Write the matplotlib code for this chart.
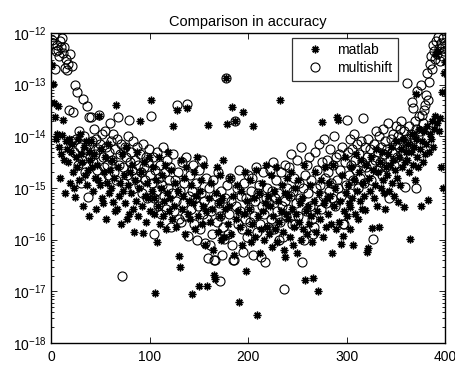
import numpy as np
import matplotlib
matplotlib.use("Agg")
import matplotlib.pyplot as plt
from matplotlib.ticker import FixedLocator, NullFormatter

plt.rcParams['font.family'] = ['Liberation Sans', 'DejaVu Sans']
plt.rcParams['mathtext.fontset'] = 'custom'
plt.rcParams['mathtext.rm'] = 'Liberation Sans'
plt.rcParams['mathtext.it'] = 'Liberation Sans:italic'
plt.rcParams['mathtext.bf'] = 'Liberation Sans:bold'

# log10 of the error for each of the 400 test cases
matlab_exp = [
    -12.62, -12.99, -13.35, -13.62, -14.05, -13.95, -13.41, -14.20, -14.80, -14.35,
    -13.97, -13.68, -14.45, -15.10, -14.10, -14.25, -14.50, -14.05, -14.90, -14.30,
    -14.15, -14.70, -15.00, -15.17, -14.40, -14.60, -14.05, -14.85, -13.95, -14.35,
    -14.50, -15.35, -14.20, -14.75, -14.10, -14.95, -14.65, -14.30, -15.55, -14.45,
    -14.10, -14.60, -15.05, -14.35, -14.80, -15.40, -14.55, -14.85, -13.60, -14.95,
    -14.25, -15.20, -15.30, -14.70, -14.40, -15.60, -14.90, -14.15, -15.10, -14.65,
    -15.00, -14.45, -15.27, -14.80, -15.45, -13.40, -15.40, -14.60, -15.15, -14.90,
    -15.70, -14.35, -15.05, -14.75, -15.30, -14.20, -15.60, -14.95, -15.50, -14.70,
    -15.10, -14.55, -15.40, -15.85, -14.85, -15.25, -14.30, -15.55, -15.00, -13.70,
    -14.70, -15.35, -15.87, -14.50, -15.15, -15.65, -14.90, -15.20, -14.40, -15.45,
    -13.30, -15.05, -14.60, -15.50, -15.20, -17.03, -14.85, -16.04, -15.35, -14.40,
    -15.70, -15.00, -14.75, -15.55, -15.25, -14.55, -15.80, -15.10, -14.30, -15.45,
    -15.20, -14.65, -15.60, -13.80, -15.35, -14.90, -15.75, -13.50, -15.05, -16.31,
    -16.52, -14.45, -15.40, -15.15, -14.80, -15.90, -14.60, -13.45, -15.50, -15.25,
    -15.60, -14.95, -17.05, -15.30, -14.70, -15.80, -15.15, -14.40, -15.55, -16.90,
    -15.05, -14.85, -15.70, -15.35, -14.55, -16.10, -15.45, -16.90, -13.78, -15.20,
    -15.65, -14.90, -15.40, -16.20, -16.68, -16.76, -15.10, -14.60, -15.85, -15.30,
    -14.75, -15.55, -16.00, -15.20, -14.45, -15.95, -15.40, -12.87, -13.77, -15.70,
    -15.35, -14.80, -15.90, -13.43, -15.15, -16.30, -13.70, -15.60, -14.95, -15.45,
    -17.20, -15.75, -15.05, -16.10, -13.53, -15.50, -14.70, -16.60, -15.25, -15.85,
    -15.40, -14.85, -16.05, -15.70, -13.80, -15.20, -15.95, -14.65, -17.45, -15.55,
    -15.10, -16.25, -15.80, -14.90, -15.45, -16.00, -15.30, -14.55, -15.75, -15.15,
    -15.90, -15.35, -14.75, -16.15, -15.55, -15.05, -15.80, -14.60, -16.05, -15.25,
    -15.65, -13.30, -15.45, -14.95, -15.85, -16.20, -15.10, -16.33, -15.50, -14.80,
    -15.60, -15.15, -15.95, -14.70, -15.40, -16.10, -15.75, -15.00, -15.50, -16.26,
    -14.85, -15.65, -15.30, -16.00, -15.20, -15.80, -14.55, -16.78, -15.45, -15.90,
    -15.35, -15.70, -14.95, -15.55, -16.05, -16.75, -15.25, -14.70, -15.85, -15.45,
    -16.99, -15.10, -15.60, -14.85, -13.72, -15.95, -15.30, -14.60, -15.75, -15.20,
    -15.50, -14.90, -15.15, -15.70, -16.26, -14.55, -15.35, -15.00, -15.80, -13.63,
    -13.68, -15.65, -15.25, -16.08, -14.75, -15.93, -15.45, -14.40, -15.10, -15.55,
    -14.95, -15.30, -15.80, -15.37, -14.60, -15.20, -16.10, -14.85, -15.50, -14.35,
    -15.05, -15.60, -14.70, -15.25, -14.45, -15.40, -14.90, -15.15, -15.42, -14.55,
    -16.24, -16.16, -14.80, -15.05, -14.40, -15.77, -14.65, -15.20, -14.95, -14.25,
    -15.35, -14.70, -15.75, -14.50, -15.00, -14.30, -14.85, -15.10, -15.40, -14.60,
    -14.75, -14.35, -15.05, -14.55, -14.20, -14.90, -14.45, -15.15, -14.65, -14.10,
    -14.80, -15.27, -14.40, -14.95, -14.25, -14.60, -14.05, -15.37, -14.50, -14.30,
    -14.45, -14.15, -14.70, -15.98, -14.30, -13.95, -14.55, -14.20, -14.85, -14.05,
    -13.18, -14.40, -14.60, -13.85, -14.25, -15.35, -14.10, -14.50, -13.90, -14.35,
    -14.15, -13.80, -15.23, -14.30, -13.95, -14.05, -13.70, -14.20, -13.85, -13.60,
    -12.40, -13.75, -12.35, -13.90, -13.64, -14.60, -13.14, -15.00, -12.78, -12.56,
]

multishift_exp = [
    -12.13, -12.20, -12.05, -12.70, -12.35, -12.23, -12.33, -12.45, -12.15, -12.28,
    -12.10, -12.39, -12.27, -12.68, -12.50, -12.72, -12.60, -13.50, -12.40, -14.10,
    -12.64, -13.53, -14.30, -13.00, -14.05, -13.14, -14.55, -13.90, -14.20, -14.90,
    -14.45, -13.28, -14.00, -14.70, -14.25, -13.42, -15.17, -14.15, -13.63, -14.40,
    -13.63, -14.10, -14.50, -13.85, -14.35, -14.05, -14.65, -14.25, -13.58, -14.15,
    -14.80, -13.95, -14.40, -14.60, -13.90, -14.20, -14.55, -14.75, -14.30, -13.74,
    -14.10, -14.45, -13.95, -14.70, -14.25, -14.85, -14.05, -13.63, -14.55, -14.35,
    -14.15, -16.70, -14.60, -14.90, -14.20, -14.40, -14.75, -14.00, -13.68, -14.50,
    -14.30, -14.65, -14.10, -15.00, -14.45, -14.80, -14.20, -14.55, -14.95, -14.35,
    -14.70, -15.10, -14.15, -14.60, -14.85, -14.40, -15.20, -14.50, -14.25, -14.75,
    -13.60, -14.90, -14.40, -15.20, -15.90, -14.65, -15.05, -14.30, -15.35, -14.80,
    -14.55, -15.50, -14.95, -14.20, -15.15, -14.70, -15.40, -14.45, -15.00, -14.85,
    -14.60, -15.75, -15.10, -14.35, -15.45, -14.85, -15.25, -13.40, -14.70, -15.60,
    -15.05, -15.66, -14.50, -15.30, -14.90, -15.55, -14.40, -13.38, -15.93, -15.15,
    -14.75, -15.40, -15.05, -14.55, -15.70, -15.20, -14.90, -16.00, -15.35, -14.65,
    -15.80, -15.10, -14.45, -15.50, -15.25, -16.07, -14.80, -15.60, -16.35, -15.00,
    -16.10, -15.45, -15.90, -14.85, -16.40, -16.40, -15.15, -15.65, -14.70, -15.30,
    -16.80, -15.55, -15.05, -16.30, -15.75, -15.98, -15.20, -12.87, -14.95, -15.90,
    -15.50, -14.80, -15.25, -16.10, -16.40, -16.40, -13.70, -15.35, -15.00, -15.70,
    -14.65, -15.45, -15.15, -15.80, -16.24, -14.90, -15.60, -15.20, -15.95, -14.75,
    -15.40, -15.65, -15.05, -14.80, -16.30, -15.55, -15.25, -14.60, -15.85, -15.10,
    -14.95, -15.70, -16.33, -15.35, -14.70, -15.50, -16.43, -15.20, -15.00, -15.75,
    -15.30, -14.65, -15.60, -15.05, -14.50, -15.80, -15.20, -14.85, -15.45, -15.10,
    -16.00, -15.66, -14.70, -15.35, -15.95, -16.95, -15.25, -14.55, -15.55, -15.00,
    -15.40, -14.60, -15.15, -14.35, -15.70, -15.05, -14.80, -15.70, -15.30, -14.45,
    -15.55, -14.90, -15.20, -14.20, -16.43, -15.00, -16.00, -14.75, -15.45, -14.55,
    -15.10, -14.40, -15.35, -14.85, -15.60, -15.90, -15.76, -14.30, -15.00, -14.65,
    -15.25, -14.15, -14.95, -15.40, -14.50, -15.15, -14.05, -14.80, -15.30, -14.45,
    -14.70, -15.05, -14.25, -14.90, -15.20, -14.55, -14.00, -15.35, -14.40, -14.85,
    -15.00, -14.35, -14.65, -15.15, -14.20, -15.70, -15.70, -14.50, -14.95, -13.68,
    -14.30, -14.75, -14.05, -15.10, -14.55, -14.25, -14.85, -13.95, -14.45, -14.65,
    -14.15, -15.00, -14.35, -14.80, -14.10, -14.50, -13.65, -14.90, -14.20, -14.60,
    -14.40, -14.05, -14.70, -14.25, -14.85, -14.55, -15.98, -14.15, -14.45, -13.90,
    -14.65, -14.30, -14.00, -14.50, -14.20, -14.75, -13.85, -14.35, -14.10, -14.60,
    -14.25, -13.75, -15.20, -14.45, -14.05, -14.30, -13.95, -14.55, -14.15, -13.80,
    -14.40, -14.00, -14.20, -13.85, -13.70, -14.35, -14.10, -13.90, -14.98, -14.05,
    -12.97, -14.15, -13.80, -14.25, -13.95, -13.33, -13.45, -14.05, -13.70, -15.00,
    -13.85, -13.13, -14.00, -13.60, -13.90, -13.00, -13.58, -13.75, -13.50, -13.40,
    -13.20, -12.78, -13.30, -12.95, -12.60, -12.45, -12.70, -12.23, -12.35, -12.50,
    -12.15, -12.40, -12.08, -12.30, -12.55, -12.20, -12.45, -12.10, -12.35, -12.25,
]

decades = [1e-18, 1e-17, 1e-16, 1e-15, 1e-14, 1e-13, 1e-12]
decade_labels = [r'$10^{-18}$', r'$10^{-17}$', r'$10^{-16}$', r'$10^{-15}$',
                 r'$10^{-14}$', r'$10^{-13}$', r'$10^{-12}$']
xticks = [0, 100, 200, 300, 400]

n = np.arange(1, len(matlab_exp) + 1)
err_matlab = 10.0 ** np.array(matlab_exp)
err_multi = 10.0 ** np.array(multishift_exp)

fig = plt.figure(figsize=(4.56, 3.67), dpi=100)
ax = fig.add_axes([0.112, 0.0654, 0.864, 0.845])

ax.semilogy(n, err_matlab, linestyle='none', marker=(8, 2, 0), ms=5.5,
            mew=1.0, color='black', label='matlab')
ax.semilogy(n, err_multi, linestyle='none', marker='o', ms=6.5,
            mfc='none', mew=0.8, color='black', label='multishift')

ax.set_xlim(0, 400)
ax.set_ylim(decades[0], decades[-1])
ax.set_xticks(xticks)
ax.set_yticks(decades)
ax.set_yticklabels(decade_labels)
minor = [m * d for d in decades[:-1] for m in range(2, 10)]
ax.yaxis.set_minor_locator(FixedLocator(minor))
ax.yaxis.set_minor_formatter(NullFormatter())
ax.tick_params(which='both', direction='in', top=True, right=True,
               labelsize=10, width=0.6)
ax.tick_params(which='major', length=4)
ax.tick_params(which='minor', length=2)
ax.tick_params(axis='x', pad=5)
for sp in ax.spines.values():
    sp.set_linewidth(1.0)

ax.set_title('Comparison in accuracy', fontsize=10.5, pad=5)

leg = ax.legend(loc='upper right', bbox_to_anchor=(0.881, 0.985),
                fancybox=False, edgecolor='black', fontsize=10,
                handlelength=2.5, handletextpad=0.4, borderpad=0.4,
                labelspacing=0.3, borderaxespad=0)
leg.get_frame().set_linewidth(0.9)

fig.savefig('out.png', dpi=100)
